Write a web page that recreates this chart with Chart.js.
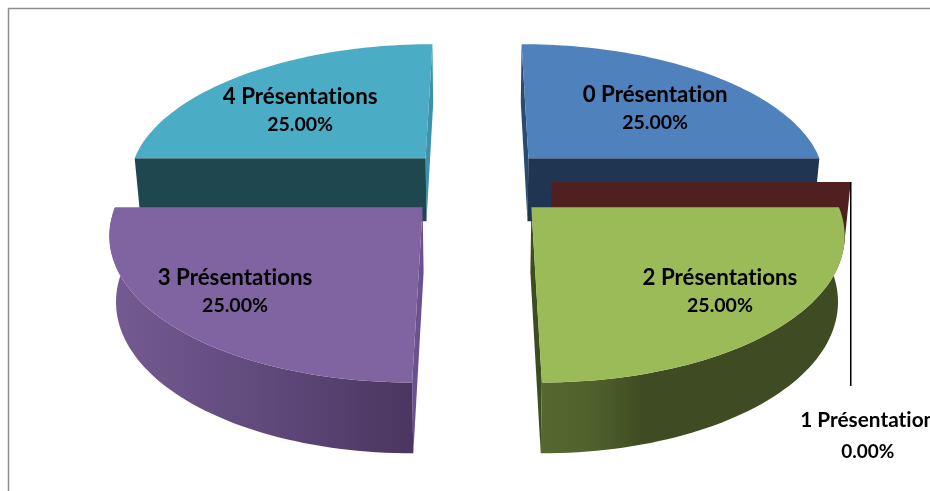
<!DOCTYPE html>
<html>
<head>
<meta charset="utf-8">
<script src="https://cdn.jsdelivr.net/npm/chart.js@4"></script>
<style>
html,body{margin:0;padding:0;background:#fff;overflow:hidden}
canvas{display:block}
</style>
</head>
<body>
<canvas id="pie" width="930" height="491"></canvas>
<script>
// Participation par nombre de présentations
const categories = ['0 Présentation', '1 Présentation', '2 Présentations', '3 Présentations', '4 Présentations'];
const shares = [25, 0, 25, 25, 25];

const topColors = ['#4F81BD', '#C0504D', '#9BBB59', '#8064A2', '#4BACC6'];
const frontWallColors = ['#1F3552', '#4F201F', '#566830', '#4A3660', '#1E4750'];
const sideWallColors = ['#2A4A70', '#4F201F', '#3C4D20', '#6A5290', '#3C93A9'];
const outerWallStops = [
  null, null,
  [[0, '#566830'], [0.18, '#4F602C'], [0.34, '#3F4B22'], [1, '#3F4B22']],
  [[0, '#4A3660'], [0.35, '#5A4474'], [0.7, '#685084'], [1, '#745A92']],
  null
];

// Camera: a tilted ground plane seen from the front, in units of the pie radius.
const camera = {cx: 477, horizon: -700, y0: 182, span: 882, depth: 1900, unit: 299, height: 64, shrink: 0.982};
const pieRadius = 200;
const explode = 200; // arc offset option; arcs shift by a quarter of it

function project(u, v, lower) {
  const Y = v * camera.unit;
  const s = camera.depth / (camera.depth - Y);
  const x = camera.cx + u * camera.unit * s;
  const y = camera.horizon + camera.span * s;
  if (!lower) return {x, y};
  return {x: camera.cx + (x - camera.cx) * camera.shrink, y: y + camera.height * Math.sqrt(s)};
}

function sliceGeometry(arc) {
  const mid = (arc.startAngle + arc.endAngle) / 2;
  const shift = explode / 4 / pieRadius;
  const tip = {u: Math.cos(mid) * shift, v: Math.sin(mid) * shift};
  const r = arc.outerRadius / pieRadius;
  const at = (a) => ({u: tip.u + Math.cos(a) * r, v: tip.v + Math.sin(a) * r});
  return {mid, tip, at};
}

function polygon(ctx, pts, fill) {
  ctx.beginPath();
  pts.forEach((p, i) => i ? ctx.lineTo(p.x, p.y) : ctx.moveTo(p.x, p.y));
  ctx.closePath();
  ctx.fillStyle = fill;
  ctx.fill();
}

function radialWall(ctx, a, b, fill) {
  polygon(ctx, [project(a.u, a.v), project(b.u, b.v), project(b.u, b.v, true), project(a.u, a.v, true)], fill);
}

function paintSlice(ctx, arc, i) {
  const g = sliceGeometry(arc);
  const {tip, at} = g;
  const start = at(arc.startAngle), end = at(arc.endAngle);

  // an empty slice is only its cut face
  if (arc.circumference === 0) {
    radialWall(ctx, tip, start, frontWallColors[i]);
    return;
  }

  const steps = 60;
  const rim = [];
  for (let k = 0; k <= steps; k++) {
    rim.push(at(arc.startAngle + (arc.endAngle - arc.startAngle) * k / steps));
  }
  const level = Math.abs(start.v - tip.v) < Math.abs(end.v - tip.v) ? start : end;
  const steep = level === start ? end : start;

  if (Math.sin(g.mid) > 0) {
    // front half: sliver of the cut face, then the curved rim wall
    radialWall(ctx, tip, steep, sideWallColors[i]);
    const upper = rim.map(p => project(p.u, p.v));
    const lower = rim.map(p => project(p.u, p.v, true)).reverse();
    const from = project(steep.u, steep.v), to = project(level.u, level.v);
    const grad = ctx.createLinearGradient(from.x, 0, to.x, 0);
    outerWallStops[i].forEach(([o, col]) => grad.addColorStop(o, col));
    polygon(ctx, upper.concat(lower), grad);
  } else {
    // back half: the wide cut face faces the viewer
    radialWall(ctx, tip, steep, sideWallColors[i]);
    radialWall(ctx, tip, level, frontWallColors[i]);
  }

  // top face
  polygon(ctx, [project(tip.u, tip.v)].concat(rim.map(p => project(p.u, p.v))), topColors[i]);
}

const labelAnchors = [
  {u: 0.651, v: -0.59}, {u: 0, v: 0}, {u: 0.724, v: 0.693}, {u: -0.721, v: 0.693}, {u: -0.645, v: -0.575}
];

function drawLabel(ctx, lines, x, y, sizes, gap) {
  ctx.fillStyle = '#000';
  ctx.textAlign = 'center';
  ctx.textBaseline = 'middle';
  ctx.letterSpacing = '0.01px';
  ctx.font = 'bold ' + sizes[0] + 'px Lato, sans-serif';
  ctx.fillText(lines[0], x, y);
  ctx.font = 'bold ' + sizes[1] + 'px Lato, sans-serif';
  ctx.fillText(lines[1], x, y + gap);
}

const pie3d = {
  id: 'pie3d',
  beforeDatasetDraw() { return false; },
  afterDatasetsDraw(chart) {
    const ctx = chart.ctx;
    const meta = chart.getDatasetMeta(0);
    const total = shares.reduce((a, b) => a + b, 0);

    ctx.save();
    // chart frame
    ctx.strokeStyle = '#8E8E8E';
    ctx.lineWidth = 1.5;
    ctx.beginPath();
    ctx.moveTo(8.5, chart.height);
    ctx.lineTo(8.5, 8.5);
    ctx.lineTo(chart.width, 8.5);
    ctx.stroke();

    // far slices first
    const order = meta.data.map((arc, i) => i)
      .sort((a, b) => Math.sin(sliceGeometry(meta.data[a]).mid) - Math.sin(sliceGeometry(meta.data[b]).mid));
    order.forEach(i => paintSlice(ctx, meta.data[i], i));

    meta.data.forEach((arc, i) => {
      const pct = (shares[i] / total * 100).toFixed(2) + '%';
      if (shares[i] === 0) {
        // empty slice: label sits below its leader line
        const g = sliceGeometry(arc);
        const end = g.at(arc.startAngle);
        const p = project(end.u, end.v);
        ctx.strokeStyle = '#000';
        ctx.lineWidth = 1.5;
        ctx.beginPath();
        ctx.moveTo(p.x, p.y);
        ctx.lineTo(p.x, p.y + 204);
        ctx.stroke();
        drawLabel(ctx, [categories[i], pct], p.x + 17, p.y + 238, [20.8, 19], 32);
      } else {
        const a = labelAnchors[i];
        const p = project(a.u, a.v);
        drawLabel(ctx, [categories[i], pct], p.x, p.y - 12.5, [22.3, 19.5], 28);
      }
    });
    ctx.restore();
  }
};

new Chart(document.getElementById('pie'), {
  type: 'pie',
  data: {
    labels: categories,
    datasets: [{data: shares, backgroundColor: topColors, borderWidth: 0, offset: explode, radius: pieRadius}]
  },
  options: {
    responsive: false,
    animation: false,
    plugins: {legend: {display: false}, tooltip: {enabled: false}}
  },
  plugins: [pie3d]
});
</script>
</body>
</html>
